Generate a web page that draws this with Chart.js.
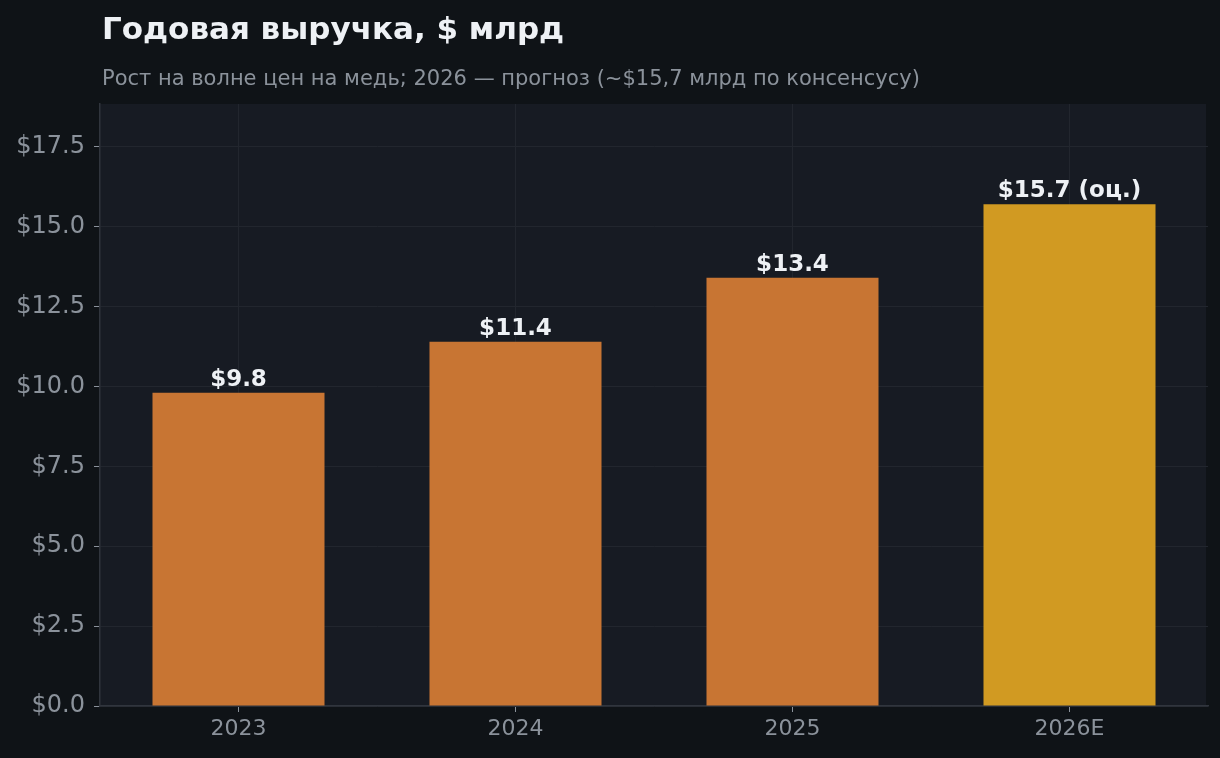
<!DOCTYPE html>
<html>
<head>
<meta charset="utf-8">
<script src="https://cdn.jsdelivr.net/npm/chart.js@4.4.1/dist/chart.umd.min.js"></script>
<style>
  html, body { margin: 0; padding: 0; background: #0f1317; }
  .wrap-chart { width: 1220px; height: 758px; position: relative; }
</style>
</head>
<body>
<div class="wrap-chart"><canvas></canvas></div>
<script>
const years = ['2023', '2024', '2025', '2026E'];
const revenue = [9.8, 11.4, 13.4, 15.7];
const barLabels = ['$9.8', '$11.4', '$13.4', '$15.7 (оц.)'];
const barColors = ['#c87533', '#c87533', '#c87533', '#d19a22'];
const yMax = 18.84;
const yStep = 2.5;

const titleText = 'Годовая выручка, $ млрд';
const subtitleText = 'Рост на волне цен на медь; 2026 — прогноз (~$15,7 млрд по консенсусу)';

const font = 'DejaVu Sans';

// plot background + title/subtitle at the plot's left edge
const frame = {
    id: 'frame',
    beforeDraw(chart) {
        const c = chart.ctx, a = chart.chartArea;
        c.save();
        c.fillStyle = '#171b23';
        c.fillRect(a.left, a.top, a.right - a.left - 2, a.bottom - a.top);
        c.fillStyle = '#eef1f5';
        c.font = 'bold 31px "' + font + '"';
        c.textBaseline = 'alphabetic';
        c.textAlign = 'left';
        c.fillText(titleText, 102, 39);
        c.fillStyle = '#8b929b';
        c.font = '21px "' + font + '"';
        c.fillText(subtitleText, 102, 85);
        c.restore();
    }
};

const valueLabels = {
    id: 'valueLabels',
    afterDatasetsDraw(chart) {
        const c = chart.ctx;
        const meta = chart.getDatasetMeta(0);
        c.save();
        c.fillStyle = '#eef1f5';
        c.font = 'bold 23px "' + font + '"';
        c.textAlign = 'center';
        c.textBaseline = 'alphabetic';
        meta.data.forEach((bar, i) => {
            c.fillText(barLabels[i], bar.x, bar.y - 7);
        });
        c.restore();
    }
};

const ctx = document.querySelector('.wrap-chart canvas').getContext('2d');
const chart = new Chart(ctx, {
    type: 'bar',
    data: {
        labels: years,
        datasets: [{
            data: revenue,
            backgroundColor: barColors,
            borderWidth: 0,
            barPercentage: 0.621,
            categoryPercentage: 1
        }]
    },
    options: {
        responsive: true,
        maintainAspectRatio: false,
        animation: false,
        layout: { padding: { top: 104, right: 12, left: 0, bottom: 0 } },
        plugins: {
            legend: { display: false },
            title: { display: false },
            tooltip: { enabled: false }
        },
        scales: {
            x: {
                afterFit(scale) { scale.height = 52; },
                grid: {
                    offset: false,
                    color: '#22262e',
                    tickColor: '#8b929b',
                    tickLength: 6
                },
                border: { color: '#30353d', width: 1.5 },
                ticks: {
                    color: '#8b929b',
                    font: { family: font, size: 22 },
                    padding: 4
                }
            },
            y: {
                min: 0,
                max: yMax,
                afterFit(scale) { scale.width = 100; },
                grid: {
                    color: '#22262e',
                    tickColor: '#8b929b',
                    tickLength: 6
                },
                border: { color: '#30353d', width: 1.5 },
                ticks: {
                    stepSize: yStep,
                    includeBounds: false,
                    color: '#8b929b',
                    font: { family: font, size: 24 },
                    padding: 9,
                    callback: v => '$' + Number(v).toFixed(1)
                }
            }
        }
    },
    plugins: [frame, valueLabels]
});
</script>
</body>
</html>
